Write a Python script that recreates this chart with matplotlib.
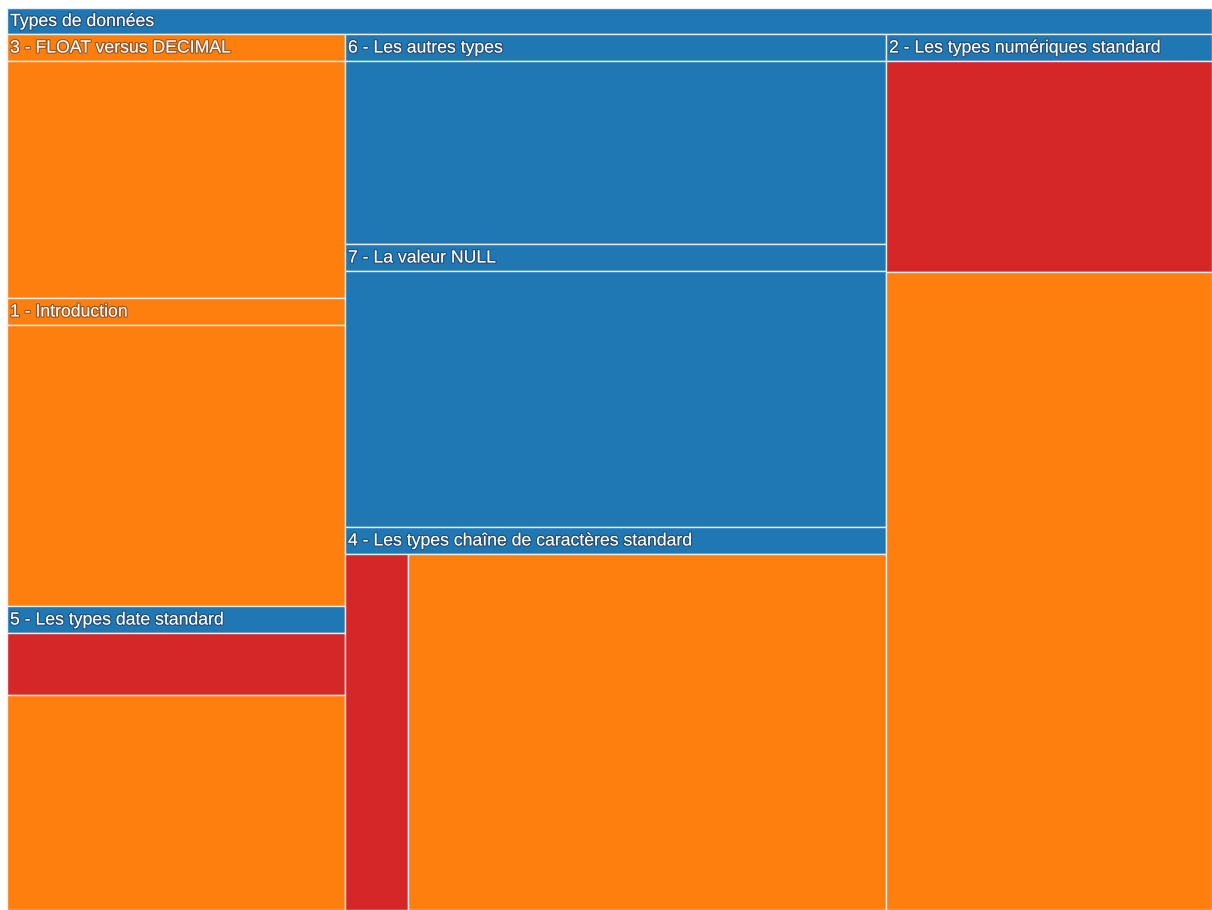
import matplotlib.pyplot as plt
import matplotlib.patheffects as pe
from matplotlib.patches import Rectangle


BLUE = "#1f77b4"
ORANGE = "#ff7f0e"
RED = "#d62728"
EDGE = "#e9eef3"

ROOT_LABEL = "Types de données"

CHAPTERS = [
    "3 - FLOAT versus DECIMAL",
    "1 - Introduction",
    "5 - Les types date standard",
    "6 - Les autres types",
    "7 - La valeur NULL",
    "4 - Les types chaîne de caractères standard",
    "2 - Les types numériques standard",
]
CHAPTER_COLUMN = [0, 0, 0, 1, 1, 1, 2]
HEADER_COLORS = [ORANGE, ORANGE, BLUE, BLUE, BLUE, BLUE, BLUE]

# sub-blocks of each chapter
SECTION_VALUES = [
    [84.5],
    [98.6],
    [21.8, 75.5],
    [107.6],
    [145.0],
    [23.0, 173.3],
    [67.3, 203.2],
]
SECTION_COLORS = [
    [ORANGE],
    [ORANGE],
    [RED, ORANGE],
    [BLUE],
    [BLUE],
    [RED, ORANGE],
    [RED, ORANGE],
]
SECTION_STACK = ["v", "v", "v", "v", "v", "h", "v"]

# canvas geometry (pixels)
WIDTH, HEIGHT = 1212, 910
LEFT, TOP, RIGHT, BOTTOM = 7, 8, 1212, 910
HEADER = 27
ROOT_HEADER = 26

TEXT_STYLE = dict(
    color="white",
    fontsize=12.7,
    family=["Liberation Sans", "DejaVu Sans"],
    va="center",
    ha="left",
    path_effects=[pe.withStroke(linewidth=1.8, foreground=(0.15, 0.15, 0.2, 0.45))],
)


def draw_box(ax, x, y, w, h, color):
    ax.add_patch(Rectangle((x, y), w, h, facecolor=color,
                           edgecolor=EDGE, linewidth=1.0))


def header(ax, x, y, w, label, color, height=HEADER):
    draw_box(ax, x, y, w, height, color)
    ax.text(x + 3, y + height / 2 + 0.5, label, **TEXT_STYLE)


def main():
    fig = plt.figure(figsize=(WIDTH / 100, HEIGHT / 100), dpi=100)
    ax = fig.add_axes([0, 0, 1, 1])
    ax.set_xlim(0, WIDTH)
    ax.set_ylim(HEIGHT, 0)
    ax.axis("off")

    header(ax, LEFT, TOP, RIGHT - LEFT, ROOT_LABEL, BLUE, ROOT_HEADER)

    totals = [sum(v) for v in SECTION_VALUES]
    n_cols = max(CHAPTER_COLUMN) + 1
    col_sums = [sum(t for t, c in zip(totals, CHAPTER_COLUMN) if c == k)
                for k in range(n_cols)]
    grand = sum(col_sums)

    area_top = TOP + ROOT_HEADER
    area_h = BOTTOM - area_top
    area_w = RIGHT - LEFT

    x = LEFT
    for k in range(n_cols):
        col_w = area_w * col_sums[k] / grand
        y = area_top
        for i, total in enumerate(totals):
            if CHAPTER_COLUMN[i] != k:
                continue
            node_h = area_h * total / col_sums[k]
            header(ax, x, y, col_w, CHAPTERS[i], HEADER_COLORS[i])

            body_y = y + HEADER
            body_h = node_h - HEADER
            cx, cy = x, body_y
            for value, color in zip(SECTION_VALUES[i], SECTION_COLORS[i]):
                share = value / total
                if SECTION_STACK[i] == "h":
                    w = col_w * share
                    draw_box(ax, cx, body_y, w, body_h, color)
                    cx += w
                else:
                    h = body_h * share
                    draw_box(ax, x, cy, col_w, h, color)
                    cy += h
            y += node_h
        x += col_w

    fig.savefig("out.png", dpi=100, facecolor="white")


if __name__ == "__main__":
    main()
